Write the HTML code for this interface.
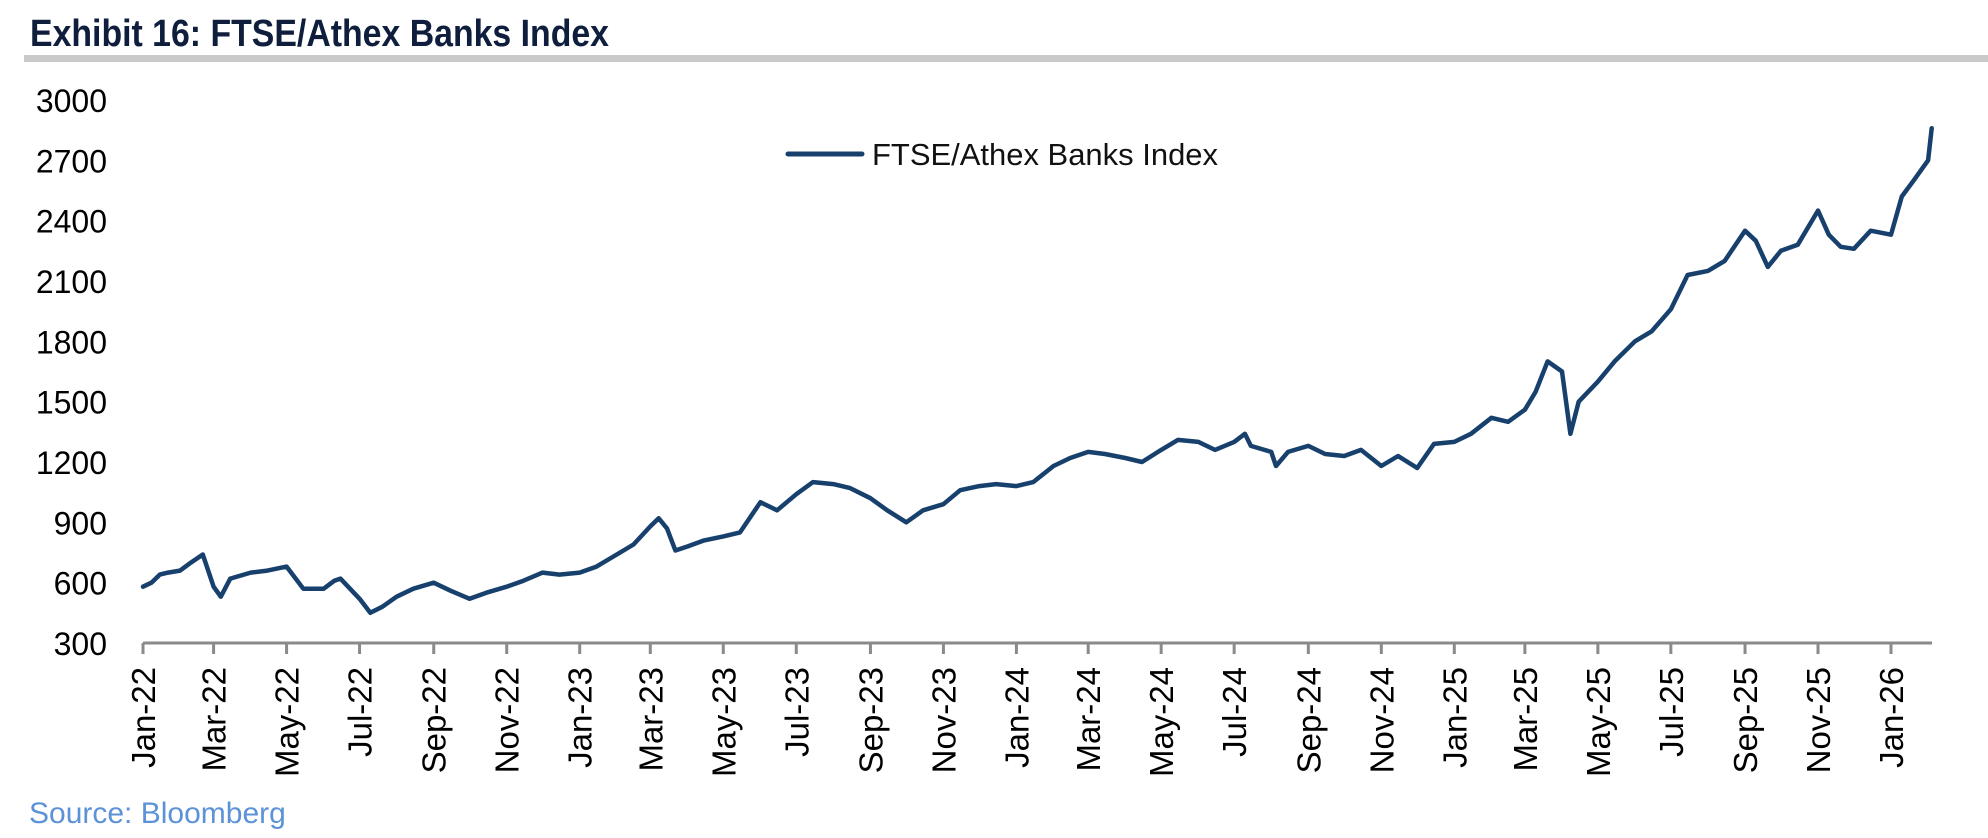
<!DOCTYPE html>
<html><head><meta charset="utf-8"><style>
html,body{margin:0;padding:0;background:#fff;}
svg{display:block;}
</style></head><body>
<svg width="1988" height="838" viewBox="0 0 1988 838" xmlns="http://www.w3.org/2000/svg">
<text x="30" y="46" font-family="'Liberation Sans Narrow','Liberation Sans',sans-serif" font-weight="bold" font-size="38" fill="#0f1e3c" textLength="579" lengthAdjust="spacingAndGlyphs">Exhibit 16: FTSE/Athex Banks Index</text>
<rect x="24" y="55" width="1964" height="7" fill="#c9c9c9"/>
<g id="yaxis"></g>
<g id="xaxis"></g>
<g id="series"></g>
<g>
<line x1="788" y1="154" x2="862" y2="154" stroke="#17406d" stroke-width="5" stroke-linecap="round"/>
<text x="872" y="165" font-family="'Liberation Sans',sans-serif" font-size="31" fill="#111" textLength="346" lengthAdjust="spacingAndGlyphs">FTSE/Athex Banks Index</text>
</g>
<text x="29" y="823" font-family="'Liberation Sans',sans-serif" font-size="30" fill="#5b92d8">Source: Bloomberg</text>
</svg>
<script>
const yTicks=[300,600,900,1200,1500,1800,2100,2400,2700,3000];
const xTickLabels=["Jan-22","Mar-22","May-22","Jul-22","Sep-22","Nov-22","Jan-23","Mar-23","May-23","Jul-23","Sep-23","Nov-23","Jan-24","Mar-24","May-24","Jul-24","Sep-24","Nov-24","Jan-25","Mar-25","May-25","Jul-25","Sep-25","Nov-25","Jan-26"];
const xTickDates=["2022-01-01","2022-03-01","2022-05-01","2022-07-01","2022-09-01","2022-11-01","2023-01-01","2023-03-01","2023-05-01","2023-07-01","2023-09-01","2023-11-01","2024-01-01","2024-03-01","2024-05-01","2024-07-01","2024-09-01","2024-11-01","2025-01-01","2025-03-01","2025-05-01","2025-07-01","2025-09-01","2025-11-01","2026-01-01"];
const dates=["2022-01-01","2022-01-08","2022-01-15","2022-01-22","2022-02-01","2022-02-10","2022-02-20","2022-03-01","2022-03-07","2022-03-15","2022-04-01","2022-04-15","2022-05-01","2022-05-15","2022-06-01","2022-06-10","2022-06-15","2022-07-01","2022-07-10","2022-07-20","2022-08-01","2022-08-15","2022-09-01","2022-09-15","2022-10-01","2022-10-15","2022-11-01","2022-11-15","2022-12-01","2022-12-15","2023-01-01","2023-01-15","2023-02-01","2023-02-15","2023-03-01","2023-03-08","2023-03-15","2023-03-22","2023-04-01","2023-04-15","2023-05-01","2023-05-15","2023-06-01","2023-06-15","2023-07-01","2023-07-15","2023-08-01","2023-08-15","2023-09-01","2023-09-15","2023-10-01","2023-10-15","2023-11-01","2023-11-15","2023-12-01","2023-12-15","2024-01-01","2024-01-15","2024-02-01","2024-02-15","2024-03-01","2024-03-15","2024-04-01","2024-04-15","2024-05-01","2024-05-15","2024-06-01","2024-06-15","2024-07-01","2024-07-10","2024-07-15","2024-08-01","2024-08-05","2024-08-15","2024-09-01","2024-09-15","2024-10-01","2024-10-15","2024-11-01","2024-11-15","2024-12-01","2024-12-15","2025-01-01","2025-01-15","2025-02-01","2025-02-15","2025-03-01","2025-03-10","2025-03-20","2025-04-01","2025-04-08","2025-04-15","2025-05-01","2025-05-15","2025-06-01","2025-06-15","2025-07-01","2025-07-15","2025-08-01","2025-08-15","2025-09-01","2025-09-10","2025-09-20","2025-10-01","2025-10-15","2025-11-01","2025-11-10","2025-11-20","2025-12-01","2025-12-15","2026-01-01","2026-01-10","2026-01-20","2026-02-01","2026-02-04"];
const values=[580,600,640,650,660,700,740,580,530,620,650,660,680,570,570,610,620,520,450,480,530,570,600,560,520,550,580,610,650,640,650,680,740,790,880,920,870,760,780,810,830,850,1000,960,1040,1100,1090,1070,1020,960,900,960,990,1060,1080,1090,1080,1100,1180,1220,1250,1240,1220,1200,1260,1310,1300,1260,1300,1340,1280,1250,1180,1250,1280,1240,1230,1260,1180,1230,1170,1290,1300,1340,1420,1400,1460,1550,1700,1650,1340,1500,1600,1700,1800,1850,1960,2130,2150,2200,2350,2300,2170,2250,2280,2450,2330,2270,2260,2350,2330,2520,2600,2700,2860];

const NS="http://www.w3.org/2000/svg";
const X0=143, X1=1891, D0=Date.UTC(2022,0,1), D1=Date.UTC(2026,0,1);
function dayOf(s){const p=s.split('-');return Date.UTC(+p[0],+p[1]-1,+p[2]);}
function xScale(s){return X0+(dayOf(s)-D0)/(D1-D0)*(X1-X0);}
function yScale(v){return 643-(v-300)/2700*543;}
function mk(tag,attrs,parent){const e=document.createElementNS(NS,tag);for(const k in attrs)e.setAttribute(k,attrs[k]);parent.appendChild(e);return e;}

const ya=document.getElementById('yaxis');
yTicks.forEach(v=>{
  const t=mk('text',{x:107,y:yScale(v)+12,'text-anchor':'end','font-family':"'Liberation Sans',sans-serif",'font-size':32,fill:'#000'},ya);
  
  
  t.textContent=v;
});

const xa=document.getElementById('xaxis');
const axl=mk('line',{x1:X0,y1:643,x2:1932,y2:643,stroke:'#8a8a8a','stroke-width':3},xa);


xTickDates.forEach((d,i)=>{
  const x=xScale(d);
  const tk=mk('line',{x1:x,y1:643,x2:x,y2:654,stroke:'#8a8a8a','stroke-width':3},xa);
  
  
  const t=mk('text',{x:0,y:0,transform:`translate(${x+12},667) rotate(-90)`,'text-anchor':'end','font-family':"'Liberation Sans',sans-serif",'font-size':33,fill:'#000'},xa);
  
  
  t.textContent=xTickLabels[i];
});

const sg=document.getElementById('series');
const pts=dates.map((d,i)=>xScale(d).toFixed(1)+','+yScale(values[i]).toFixed(1)).join(' ');
const pl=mk('polyline',{points:pts,fill:'none',stroke:'#17406d','stroke-width':4.5,'stroke-linejoin':'round','stroke-linecap':'round'},sg);


</script>
</body></html>
